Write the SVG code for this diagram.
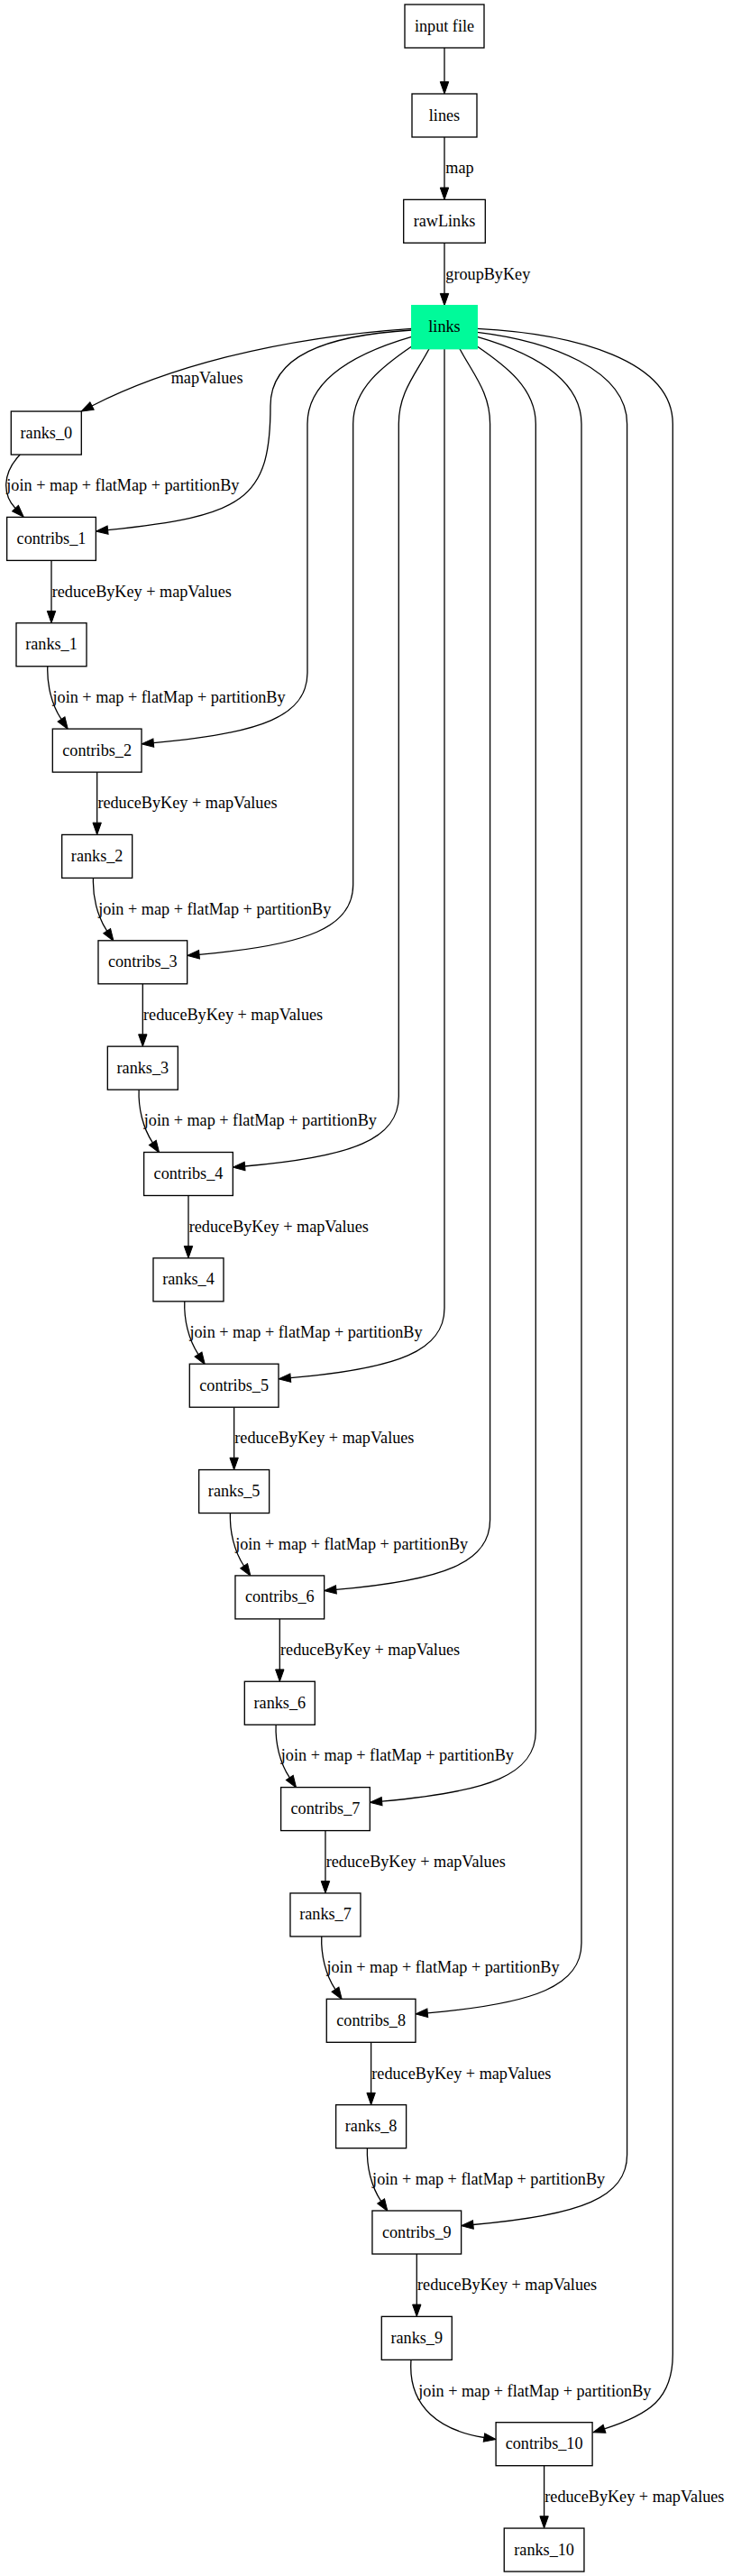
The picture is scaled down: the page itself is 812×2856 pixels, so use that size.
<svg xmlns="http://www.w3.org/2000/svg" width="812" height="2856" viewBox="0 0 812 2856">
<style>
.n rect{fill:#fff;stroke:#000;stroke-width:1.33}
.n text{font-family:"Liberation Serif","Times New Roman",serif;font-size:18.2px;text-anchor:middle;fill:#000}
.e path{fill:none;stroke:#000;stroke-width:1.3;marker-end:url(#ah)}
.e text{font-family:"Liberation Serif","Times New Roman",serif;font-size:18.2px;fill:#000}
</style>
<defs>
<marker id="ah" markerUnits="userSpaceOnUse" markerWidth="13.3" markerHeight="9.4" viewBox="0 0 13.3 9.4" refX="0" refY="4.7" orient="auto" overflow="visible">
<path d="M0,0 L13.3,4.7 L0,9.4 z" fill="#000" stroke="#000" stroke-width="1"/>
</marker>
</defs>
<rect width="812" height="2856" fill="#fff"/>
<g id="edges" class="e">
<path d="M493,53 L493,90.7"/>
<path d="M493,152 L493,208.05"/><text x="494.3" y="191.5">map</text>
<path d="M493,269.35 L493,325.4"/><text x="494.3" y="309.5">groupByKey</text>
<path d="M456.7,364.3 C300,375 180,410 102,450"/><text x="189.7" y="425">mapValues</text>
<path d="M22.3,504 C2,525 3,549 17,563.5"/><text x="7.3" y="544.2">join + map + flatMap + partitionBy</text>
<path d="M456.7,366 C360,372 300,395 300,450 C300,555 270,572 119.6,587.6"/>
<path d="M456.7,373.3 C406,388 341,415 341,470 L341,746.1 C341,793.1 291,813.1 170.3,823.6"/>
<path d="M456.7,384 C426,405 391.7,430 391.7,470 L391.7,980.8 C391.7,1027.8 341.7,1047.8 221,1058.3"/>
<path d="M476,386.7 C461,415 442.3,435 442.3,470 L442.3,1215.5 C442.3,1262.5 392.3,1282.5 271.6,1293"/>
<path d="M493,386.7 L493,1450.2 C493,1497.2 443,1517.2 322.3,1527.7"/>
<path d="M510,386.7 C525,415 543.6,435 543.6,470 L543.6,1684.9 C543.6,1731.9 493.6,1751.9 372.9,1762.4"/>
<path d="M529.3,384 C560,405 594.3,430 594.3,470 L594.3,1919.6 C594.3,1966.6 544.3,1986.6 423.6,1997.1"/>
<path d="M529.3,373.3 C580,388 645,415 645,470 L645,2154.3 C645,2201.3 595,2221.3 474.3,2231.8"/>
<path d="M529.3,368.3 C610,378 695.6,410 695.6,470 L695.6,2389 C695.6,2436 645.6,2456 524.9,2466.5"/>
<path d="M529.3,364.3 C640,370 746.3,400 746.3,470 L746.3,2610 C746.3,2660 720,2677 670.5,2692.8"/>
<path d="M57,621.4 L57,677.45"/><text x="57.7" y="661.6">reduceByKey + mapValues</text>
<path d="M107.66,856.1 L107.66,912.15"/><text x="108.4" y="896.3">reduceByKey + mapValues</text>
<path d="M158.32,1090.8 L158.32,1146.85"/><text x="159" y="1131">reduceByKey + mapValues</text>
<path d="M208.98,1325.5 L208.98,1381.55"/><text x="209.7" y="1365.7">reduceByKey + mapValues</text>
<path d="M259.64,1560.2 L259.64,1616.25"/><text x="260.3" y="1600.4">reduceByKey + mapValues</text>
<path d="M310.3,1794.9 L310.3,1850.95"/><text x="311" y="1835.1">reduceByKey + mapValues</text>
<path d="M360.96,2029.6 L360.96,2085.65"/><text x="361.7" y="2069.8">reduceByKey + mapValues</text>
<path d="M411.62,2264.3 L411.62,2320.35"/><text x="412.3" y="2304.5">reduceByKey + mapValues</text>
<path d="M462.28,2499 L462.28,2555.05"/><text x="463" y="2539.2">reduceByKey + mapValues</text>
<path d="M603.6,2733.7 L603.6,2789.75"/><text x="604.3" y="2773.9">reduceByKey + mapValues</text>
<path d="M52.8,738.75 C52,758.75 57,780.75 68,797.45"/><text x="58.5" y="778.95">join + map + flatMap + partitionBy</text>
<path d="M103.46,973.45 C102.66,993.45 107.66,1015.45 118.66,1032.15"/><text x="109.16" y="1013.65">join + map + flatMap + partitionBy</text>
<path d="M154.12,1208.15 C153.32,1228.15 158.32,1250.15 169.32,1266.85"/><text x="159.82" y="1248.35">join + map + flatMap + partitionBy</text>
<path d="M204.78,1442.85 C203.98,1462.85 208.98,1484.85 219.98,1501.55"/><text x="210.48" y="1483.05">join + map + flatMap + partitionBy</text>
<path d="M255.44,1677.55 C254.64,1697.55 259.64,1719.55 270.64,1736.25"/><text x="261.14" y="1717.75">join + map + flatMap + partitionBy</text>
<path d="M306.1,1912.25 C305.3,1932.25 310.3,1954.25 321.3,1970.95"/><text x="311.8" y="1952.45">join + map + flatMap + partitionBy</text>
<path d="M356.76,2146.95 C355.96,2166.95 360.96,2188.95 371.96,2205.65"/><text x="362.46" y="2187.15">join + map + flatMap + partitionBy</text>
<path d="M407.42,2381.65 C406.62,2401.65 411.62,2423.65 422.62,2440.35"/><text x="413.12" y="2421.85">join + map + flatMap + partitionBy</text>
<path d="M456,2616.35 C452,2670 490,2695 537,2702.5"/><text x="464.3" y="2656.5">join + map + flatMap + partitionBy</text>
</g>
<g id="input_file" class="n"><rect x="449" y="5" width="88" height="48"/><text x="493" y="34.5">input file</text></g>
<g id="lines" class="n"><rect x="457" y="104" width="72" height="48"/><text x="493" y="133.5">lines</text></g>
<g id="rawLinks" class="n"><rect x="447.7" y="221.35" width="90.6" height="48"/><text x="493" y="250.85">rawLinks</text></g>
<g id="links" class="n"><rect x="456.7" y="338.7" width="72.6" height="48" style="fill:#00fa9a;stroke:#00fa9a"/><text x="493" y="368.2">links</text></g>
<g id="ranks_0" class="n"><rect x="12.3" y="456.05" width="78" height="48"/><text x="51.3" y="485.55">ranks_0</text></g>
<g id="contribs_1" class="n"><rect x="7.65" y="573.4" width="98.7" height="48"/><text x="57" y="602.9">contribs_1</text></g>
<g id="ranks_1" class="n"><rect x="18" y="690.75" width="78" height="48"/><text x="57" y="720.25">ranks_1</text></g>
<g id="contribs_2" class="n"><rect x="58.31" y="808.1" width="98.7" height="48"/><text x="107.66" y="837.6">contribs_2</text></g>
<g id="ranks_2" class="n"><rect x="68.66" y="925.45" width="78" height="48"/><text x="107.66" y="954.95">ranks_2</text></g>
<g id="contribs_3" class="n"><rect x="108.97" y="1042.8" width="98.7" height="48"/><text x="158.32" y="1072.3">contribs_3</text></g>
<g id="ranks_3" class="n"><rect x="119.32" y="1160.15" width="78" height="48"/><text x="158.32" y="1189.65">ranks_3</text></g>
<g id="contribs_4" class="n"><rect x="159.63" y="1277.5" width="98.7" height="48"/><text x="208.98" y="1307">contribs_4</text></g>
<g id="ranks_4" class="n"><rect x="169.98" y="1394.85" width="78" height="48"/><text x="208.98" y="1424.35">ranks_4</text></g>
<g id="contribs_5" class="n"><rect x="210.29" y="1512.2" width="98.7" height="48"/><text x="259.64" y="1541.7">contribs_5</text></g>
<g id="ranks_5" class="n"><rect x="220.64" y="1629.55" width="78" height="48"/><text x="259.64" y="1659.05">ranks_5</text></g>
<g id="contribs_6" class="n"><rect x="260.95" y="1746.9" width="98.7" height="48"/><text x="310.3" y="1776.4">contribs_6</text></g>
<g id="ranks_6" class="n"><rect x="271.3" y="1864.25" width="78" height="48"/><text x="310.3" y="1893.75">ranks_6</text></g>
<g id="contribs_7" class="n"><rect x="311.61" y="1981.6" width="98.7" height="48"/><text x="360.96" y="2011.1">contribs_7</text></g>
<g id="ranks_7" class="n"><rect x="321.96" y="2098.95" width="78" height="48"/><text x="360.96" y="2128.45">ranks_7</text></g>
<g id="contribs_8" class="n"><rect x="362.27" y="2216.3" width="98.7" height="48"/><text x="411.62" y="2245.8">contribs_8</text></g>
<g id="ranks_8" class="n"><rect x="372.62" y="2333.65" width="78" height="48"/><text x="411.62" y="2363.15">ranks_8</text></g>
<g id="contribs_9" class="n"><rect x="412.93" y="2451" width="98.7" height="48"/><text x="462.28" y="2480.5">contribs_9</text></g>
<g id="ranks_9" class="n"><rect x="423.28" y="2568.35" width="78" height="48"/><text x="462.28" y="2597.85">ranks_9</text></g>
<g id="contribs_10" class="n"><rect x="550.1" y="2685.7" width="107" height="48"/><text x="603.6" y="2715.2">contribs_10</text></g>
<g id="ranks_10" class="n"><rect x="559.25" y="2803.05" width="88.7" height="48"/><text x="603.6" y="2832.55">ranks_10</text></g>
</svg>
